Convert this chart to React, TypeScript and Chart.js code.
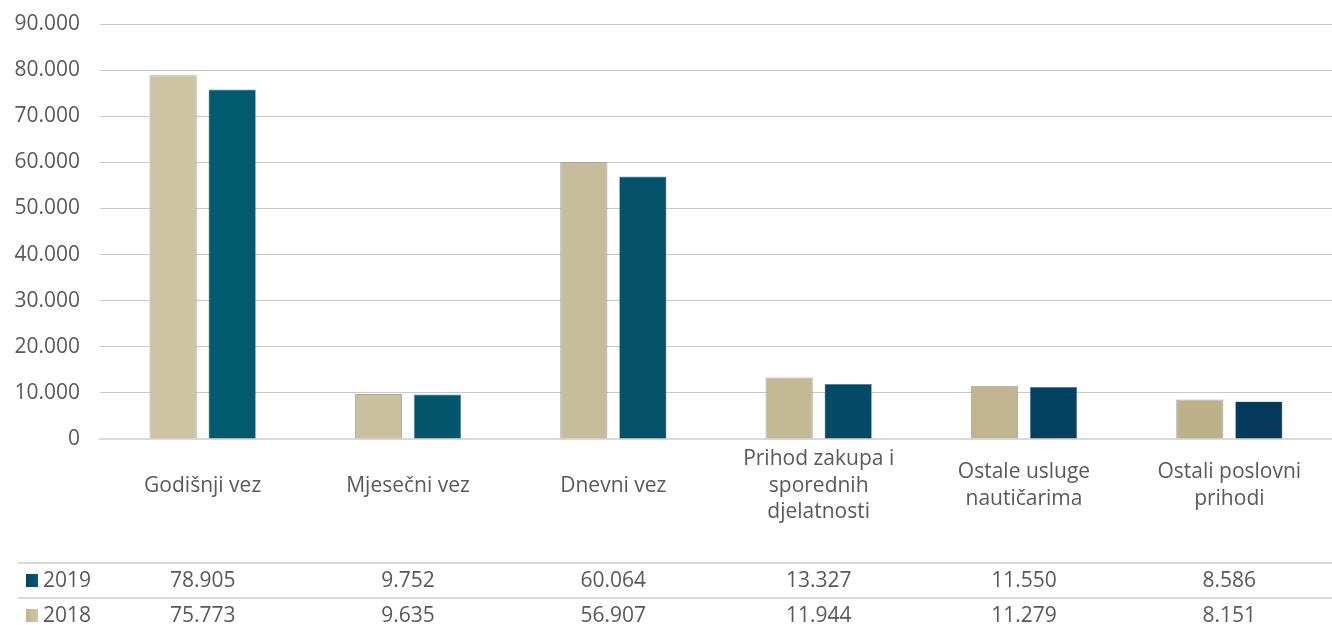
import React, { useEffect, useRef } from "react";
import { Chart, registerables } from "chart.js";

Chart.register(...registerables);

const categories: (string | string[])[] = [
  "Godišnji vez",
  "Mjesečni vez",
  "Dnevni vez",
  ["Prihod zakupa i", "sporednih", "djelatnosti"],
  ["Ostale usluge", "nautičarima"],
  ["Ostali poslovni", "prihodi"],
];
const values2019 = [78905, 9752, 60064, 13327, 11550, 8586];
const values2018 = [75773, 9635, 56907, 11944, 11279, 8151];
const yMax = 90000;
const yStep = 10000;

const beigeColors = ["#CBC3A2", "#C9C09E", "#C6BD9A", "#C3B995", "#C0B590", "#BDB18A"];
const blueColors = ["#025A6E", "#03566C", "#04516A", "#044A66", "#054261", "#063A5C"];

const FONT = "'Open Sans'";
const TEXT = "#595959";

const fmt = (v: number) => {
  const s = Math.round(v).toString();
  return s.replace(/\B(?=(\d{3})+(?!\d))/g, ".");
};

const tablePlugin = {
  id: "dataTable",
  afterDraw(chart: any) {
    const ctx = chart.ctx as CanvasRenderingContext2D;
    const x = chart.scales.x;
    const W = chart.width;
    ctx.save();
    ctx.strokeStyle = "#D9D9D9";
    ctx.lineWidth = 2;
    [563, 598].forEach((y) => {
      ctx.beginPath();
      ctx.moveTo(18, y);
      ctx.lineTo(W, y);
      ctx.stroke();
    });
    const rows = [
      { label: "2019", values: values2019, c1: "#08435F", c2: "#035C70" },
      { label: "2018", values: values2018, c1: "#C1B58F", c2: "#CFC8A8" },
    ];
    const rowY = [581, 616];
    ctx.font = `21px ${FONT}`;
    ctx.fillStyle = TEXT;
    ctx.textBaseline = "middle";
    rows.forEach((r, ri) => {
      const y = rowY[ri];
      const g = ctx.createLinearGradient(26, 0, 38, 0);
      g.addColorStop(0, r.c1);
      g.addColorStop(1, r.c2);
      ctx.fillStyle = g;
      ctx.fillRect(26, y - 7, 12, 13);
      ctx.fillStyle = TEXT;
      ctx.textAlign = "left";
      ctx.fillText(r.label, 43, y);
      ctx.textAlign = "center";
      r.values.forEach((v, i) => {
        ctx.fillText(fmt(v), x.getPixelForValue(i), y);
      });
    });
    ctx.restore();
  },
};

export default function App() {
  const ref = useRef<HTMLCanvasElement>(null);
  useEffect(() => {
    document.body.style.margin = "0";
    const chart = new Chart(ref.current!, {
      type: "bar",
      data: {
        labels: categories,
        datasets: [
          {
            label: "2019",
            data: values2019,
            backgroundColor: beigeColors,
            borderColor: "#A5A5A5",
            borderWidth: 1,
            categoryPercentage: 0.575,
            barPercentage: 0.8,
          },
          {
            label: "2018",
            data: values2018,
            backgroundColor: blueColors,
            borderColor: "#4D8699",
            borderWidth: 0.6,
            categoryPercentage: 0.575,
            barPercentage: 0.8,
          },
        ],
      },
      options: {
        animation: false,
        responsive: false,
        maintainAspectRatio: false,
        layout: { padding: { top: 24, right: 0, left: 0, bottom: 0 } },
        plugins: { legend: { display: false }, tooltip: { enabled: false } },
        scales: {
          x: {
            grid: { display: false, drawTicks: false },
            border: { display: true, color: "#D9D9D9", width: 2 },
            ticks: {
              color: TEXT,
              font: { family: FONT, size: 21, lineHeight: 1.27 },
              padding: 20,
              maxRotation: 0,
              autoSkip: false,
              crossAlign: "center",
            },
            afterFit(scale: any) {
              scale.height = 186;
              scale.paddingLeft = 0;
              scale.paddingRight = 0;
            },
          },
          y: {
            min: 0,
            max: yMax,
            grid: { color: "#C8C8C8", lineWidth: 1, drawTicks: false },
            border: { display: false },
            ticks: {
              stepSize: yStep,
              color: TEXT,
              font: { family: FONT, size: 21 },
              padding: 20,
              callback: (v: any) => fmt(Number(v)),
            },
            afterFit(scale: any) {
              scale.width = 100;
              scale.paddingTop = 0;
              scale.paddingBottom = 0;
            },
          },
        },
      },
      plugins: [tablePlugin],
    } as any);
    return () => chart.destroy();
  }, []);
  return (
    <div style={{ position: "absolute", left: 0, top: 0, width: 1332, height: 625 }}>
      <canvas ref={ref} width={1332} height={625} style={{ width: 1332, height: 625 }} />
    </div>
  );
}
